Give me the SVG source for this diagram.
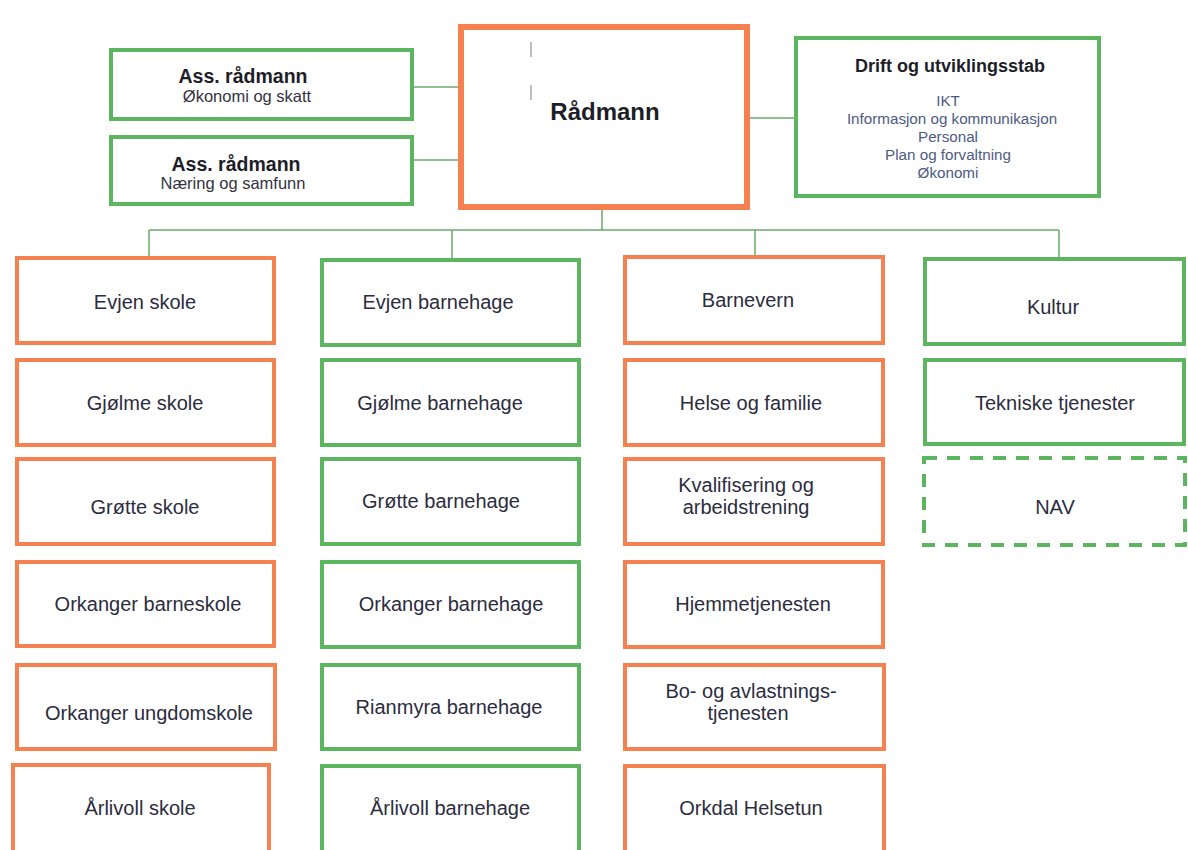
<svg xmlns="http://www.w3.org/2000/svg" width="1188" height="850" viewBox="0 0 1188 850">
<style>
.o{fill:#fff;stroke:#f4814f;stroke-width:4}
.g{fill:#fff;stroke:#5cb660;stroke-width:4}
.d{fill:#fff;stroke:#5cb660;stroke-width:4;stroke-dasharray:13 10}
.t{font-family:"Liberation Sans",Arial,sans-serif;font-size:20px;fill:#2c2c40;text-anchor:middle}
.b{font-family:"Liberation Sans",Arial,sans-serif;font-weight:bold;fill:#1e1e28;text-anchor:middle}
.s{font-family:"Liberation Sans",Arial,sans-serif;font-size:16.5px;fill:#33333f;text-anchor:middle}
.i{font-family:"Liberation Sans",Arial,sans-serif;font-size:15.2px;fill:#4d5a82;text-anchor:middle}
.c{fill:none;stroke:#6aa86a;stroke-width:1.5}
</style>
<rect width="1188" height="850" fill="#fff"/>
<g id="connectors">
<line class="c" x1="412" y1="87" x2="460" y2="87"/>
<line class="c" x1="412" y1="160" x2="460" y2="160"/>
<line class="c" x1="748" y1="118" x2="795" y2="118"/>
<line class="c" x1="602" y1="208" x2="602" y2="230"/>
<line class="c" x1="149" y1="230" x2="1059" y2="230"/>
<line class="c" x1="149" y1="230" x2="149" y2="257"/>
<line class="c" x1="452" y1="230" x2="452" y2="259"/>
<line class="c" x1="755" y1="230" x2="755" y2="256"/>
<line class="c" x1="1059" y1="230" x2="1059" y2="258"/>
</g>
<g id="n-ass1">
<rect class="g" x="111" y="50" width="301" height="69"/>
<text class="b" x="243" y="83" font-size="19.5">Ass. rådmann</text>
<text class="s" x="247" y="102">Økonomi og skatt</text>
</g>
<g id="n-ass2">
<rect class="g" x="111" y="137" width="301" height="67"/>
<text class="b" x="236" y="171" font-size="19.5">Ass. rådmann</text>
<text class="s" x="233" y="189">Næring og samfunn</text>
</g>
<g id="n-radmann">
<rect x="461" y="27" width="286" height="180" fill="#fff" stroke="#f4814f" stroke-width="6"/>
<line x1="531" y1="42" x2="531" y2="57" stroke="#aaa" stroke-width="1.5"/>
<line x1="531" y1="85" x2="531" y2="100" stroke="#aaa" stroke-width="1.5"/>
<text class="b" x="605" y="120" font-size="24" fill="#111">Rådmann</text>
</g>
<g id="n-drift">
<rect class="g" x="796" y="38" width="303" height="158"/>
<text class="b" x="950" y="72" font-size="18">Drift og utviklingsstab</text>
<text class="i" x="948" y="106">IKT</text>
<text class="i" x="952" y="124">Informasjon og kommunikasjon</text>
<text class="i" x="948" y="142">Personal</text>
<text class="i" x="948" y="160">Plan og forvaltning</text>
<text class="i" x="948" y="178">Økonomi</text>
</g>
<g id="n-evjen-skole"><rect class="o" x="17" y="258" width="257" height="85"/><text class="t" x="145" y="309">Evjen skole</text></g>
<g id="n-gjolme-skole"><rect class="o" x="17" y="360" width="257" height="85"/><text class="t" x="145" y="410">Gjølme skole</text></g>
<g id="n-grotte-skole"><rect class="o" x="17" y="459" width="257" height="85"/><text class="t" x="145" y="514">Grøtte skole</text></g>
<g id="n-orkanger-barneskole"><rect class="o" x="17" y="562" width="257" height="84"/><text class="t" x="148" y="611">Orkanger barneskole</text></g>
<g id="n-orkanger-ungdomskole"><rect class="o" x="17" y="665" width="258" height="84"/><text class="t" x="149" y="720">Orkanger ungdomskole</text></g>
<g id="n-arlivoll-skole"><rect class="o" x="13" y="765" width="256" height="88"/><text class="t" x="140" y="815">Årlivoll skole</text></g>
<g id="n-evjen-bhg"><rect class="g" x="322" y="260" width="257" height="85"/><text class="t" x="438" y="309" fill="#151520">Evjen barnehage</text></g>
<g id="n-gjolme-bhg"><rect class="g" x="322" y="360" width="257" height="85"/><text class="t" x="440" y="410">Gjølme barnehage</text></g>
<g id="n-grotte-bhg"><rect class="g" x="322" y="459" width="257" height="85"/><text class="t" x="441" y="508">Grøtte barnehage</text></g>
<g id="n-orkanger-bhg"><rect class="g" x="322" y="562" width="257" height="85"/><text class="t" x="451" y="611">Orkanger barnehage</text></g>
<g id="n-rianmyra-bhg"><rect class="g" x="322" y="665" width="257" height="84"/><text class="t" x="449" y="714">Rianmyra barnehage</text></g>
<g id="n-arlivoll-bhg"><rect class="g" x="322" y="766" width="257" height="87"/><text class="t" x="450" y="815">Årlivoll barnehage</text></g>
<g id="n-barnevern"><rect class="o" x="625" y="257" width="258" height="86"/><text class="t" x="748" y="307">Barnevern</text></g>
<g id="n-helse"><rect class="o" x="625" y="360" width="258" height="85"/><text class="t" x="751" y="410">Helse og familie</text></g>
<g id="n-kvalifisering"><rect class="o" x="625" y="459" width="258" height="85"/><text class="t" x="746" y="492">Kvalifisering og</text><text class="t" x="746" y="514">arbeidstrening</text></g>
<g id="n-hjemme"><rect class="o" x="625" y="562" width="258" height="85"/><text class="t" x="753" y="611">Hjemmetjenesten</text></g>
<g id="n-bo"><rect class="o" x="625" y="665" width="259" height="84"/><text class="t" x="751" y="698">Bo- og avlastnings-</text><text class="t" x="748" y="720">tjenesten</text></g>
<g id="n-orkdal"><rect class="o" x="625" y="766" width="259" height="87"/><text class="t" x="751" y="815">Orkdal Helsetun</text></g>
<g id="n-kultur"><rect class="g" x="925" y="259" width="259" height="85"/><text class="t" x="1053" y="314" fill="#151520">Kultur</text></g>
<g id="n-tekniske"><rect class="g" x="925" y="360" width="259" height="84"/><text class="t" x="1055" y="410">Tekniske tjenester</text></g>
<g id="n-nav"><rect class="d" x="924" y="458" width="261" height="87"/><text class="t" x="1055" y="514" fill="#151520">NAV</text></g>
</svg>
